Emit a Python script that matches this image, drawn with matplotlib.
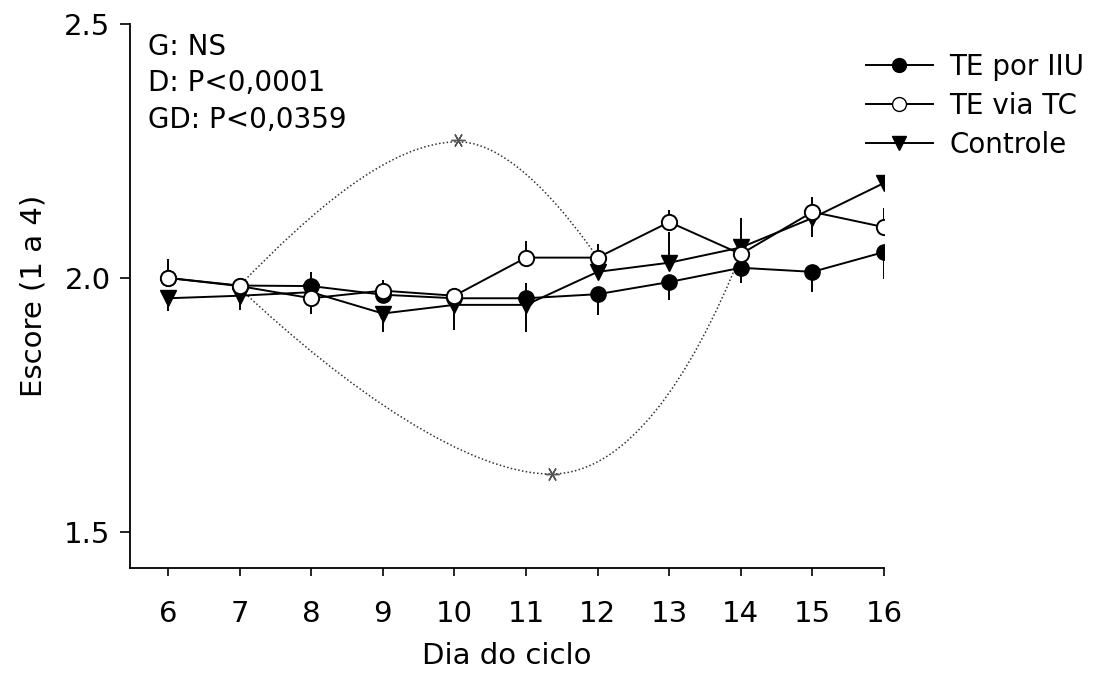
import matplotlib
matplotlib.use("Agg")
import matplotlib.pyplot as plt
from matplotlib.path import Path
from matplotlib.patches import PathPatch
from matplotlib.lines import Line2D

plt.rcParams['font.family'] = ['DejaVu Sans']

days = [6, 7, 8, 9, 10, 11, 12, 13, 14, 15, 16]

iiu = [2.00, 1.985, 1.984, 1.967, 1.96, 1.96, 1.968, 1.992, 2.02, 2.012, 2.051]
iiu_up = [0, 0, 0.028, 0, 0, 0.03, 0, 0, 0, 0, 0]
iiu_dn = [0, 0, 0, 0, 0, 0, 0.04, 0.035, 0.03, 0.04, 0.053]

tc = [2.00, 1.984, 1.96, 1.975, 1.965, 2.04, 2.04, 2.11, 2.047, 2.13, 2.10]
tc_up = [0.038, 0, 0, 0.02, 0.015, 0.032, 0.026, 0.024, 0, 0.03, 0.037]
tc_dn = [0, 0, 0.03, 0, 0, 0, 0, 0, 0, 0, 0]

ctrl = [1.96, 1.965, 1.972, 1.93, 1.947, 1.947, 2.012, 2.03, 2.06, 2.118, 2.187]
ctrl_up = [0, 0, 0, 0, 0, 0, 0, 0.06, 0.058, 0, 0]
ctrl_dn = [0.026, 0.028, 0, 0.036, 0.05, 0.053, 0, 0, 0, 0.038, 0]

stats_lines = ["G: NS", "D: P<0,0001", "GD: P<0,0359"]
legend_labels = ["TE por IIU", "TE via TC", "Controle"]

fig = plt.figure(figsize=(11.16, 6.79), dpi=100)
ax = fig.add_axes([0.1165, 0.1635, 0.6757, 0.8012])

lw = 1.4
ms = 11
ax.errorbar(days, iiu, yerr=[iiu_dn, iiu_up], fmt='-o', color='black',
            mfc='black', mec='black', ms=ms, lw=lw, elinewidth=lw, capsize=0, zorder=3)
ax.errorbar(days, tc, yerr=[tc_dn, tc_up], fmt='-o', color='black',
            mfc='white', mec='black', mew=1.4, ms=ms, lw=lw, elinewidth=lw, capsize=0, zorder=4)
ax.errorbar(days, ctrl, yerr=[ctrl_dn, ctrl_up], fmt='-v', color='black',
            mfc='black', mec='black', ms=ms, lw=lw, elinewidth=lw, capsize=0, zorder=3)

# dotted annotation curves
C4 = Path.CURVE4
upper = Path([(7, 1.985), (8.0, 2.13), (9.1, 2.268), (10.05, 2.268),
              (10.8, 2.268), (11.6, 2.12), (12, 2.04)],
             [Path.MOVETO, C4, C4, C4, C4, C4, C4])
lower = Path([(7, 1.98), (8.5, 1.78), (10.2, 1.614), (11.35, 1.614),
              (12.4, 1.614), (13.3, 1.80), (14, 2.047)],
             [Path.MOVETO, C4, C4, C4, C4, C4, C4])
for p in (upper, lower):
    ax.add_patch(PathPatch(p, fill=False, ls=(0, (1, 1.5)), lw=1.1, color='#333333', zorder=2))
ax.plot([10.05, 11.36], [2.272, 1.614], ls='none', marker=(6, 2, 90), ms=10, mew=1.0,
        color='#555555', zorder=2)

ax.set_xlim(5.47, 16)
ax.set_ylim(1.429, 2.5)
ax.set_xticks(days)
ax.set_yticks([1.5, 2.0, 2.5])
ax.set_yticklabels(["1.5", "2.0", "2.5"])
for s in ('top', 'right'):
    ax.spines[s].set_visible(False)
for s in ('left', 'bottom'):
    ax.spines[s].set_linewidth(1.3)
ax.tick_params(axis='x', direction='out', length=6, width=1.2, pad=17, labelsize=21)
ax.tick_params(axis='y', direction='out', length=7, width=1.2, pad=7, labelsize=21)
ax.set_xlabel("Dia do ciclo", fontsize=21, labelpad=10)
ax.set_ylabel("Escore (1 a 4)", fontsize=21, labelpad=12)

for i, t in enumerate(stats_lines):
    fig.text(148 / 1116, 1 - (47 + 36.5 * i) / 679, t, fontsize=20, va='center', ha='left')

handles = [
    Line2D([], [], color='black', lw=lw, marker='o', mfc='black', mec='black', ms=10),
    Line2D([], [], color='black', lw=lw, marker='o', mfc='white', mec='black', ms=10),
    Line2D([], [], color='black', lw=lw, marker='v', mfc='black', mec='black', ms=10),
]
leg = fig.legend(handles, legend_labels, loc='upper left',
                 bbox_to_anchor=(866 / 1116, 1 - 53 / 679), frameon=False,
                 fontsize=20, handlelength=2.4, handletextpad=0.6, labelspacing=0.4,
                 borderaxespad=0, borderpad=0)

fig.savefig("out.png", dpi=100)
